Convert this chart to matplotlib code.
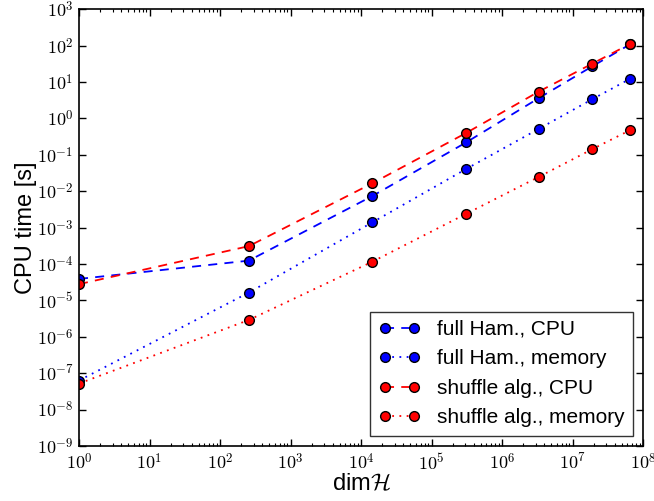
import matplotlib
matplotlib.use("Agg")
import matplotlib.pyplot as plt
from matplotlib.ticker import FuncFormatter
import numpy as np

plt.rcParams['font.family'] = ['Liberation Sans', 'DejaVu Sans']
plt.rcParams['mathtext.fontset'] = 'cm'

# Hilbert space dimensions
dims = [1, 256, 1.45e4, 3.1e5, 3.3e6, 1.9e7, 6.5e7]

# timings [s]
full_cpu = [3.9e-5, 1.24e-4, 7.4e-3, 0.22, 3.6, 27, 108]
full_mem = [6.3e-8, 1.64e-5, 1.4e-3, 0.041, 0.515, 3.37, 12.2]
shuffle_cpu = [2.8e-5, 3.1e-4, 0.0166, 0.40, 5.45, 32, 111]
shuffle_mem = [5.2e-8, 2.9e-6, 1.16e-4, 2.4e-3, 0.0247, 0.143, 0.474]

labels = ['full Ham., CPU', 'full Ham., memory',
          'shuffle alg., CPU', 'shuffle alg., memory']

fig = plt.figure(figsize=(6.54, 5.01), dpi=100)
ax = fig.add_axes([0.1208, 0.1098, 0.8624, 0.8716])

mk = dict(marker='o', markersize=7, markeredgecolor='k', markeredgewidth=1.0, lw=1.3)
ax.plot(dims, full_cpu, color='b', ls=(0, (5, 4)), markerfacecolor='b', label=labels[0], **mk)
ax.plot(dims, full_mem, color='b', ls=(0, (1, 3)), markerfacecolor='b', label=labels[1], **mk)
ax.plot(dims, shuffle_cpu, color='r', ls=(0, (5, 4)), markerfacecolor='r', label=labels[2], **mk)
ax.plot(dims, shuffle_mem, color='r', ls=(0, (1, 3)), markerfacecolor='r', label=labels[3], **mk)

ax.set_xscale('log')
ax.set_yscale('log')
ax.set_xlim(1, 1e8)
ax.set_ylim(1e-9, 1e3)
ax.set_xticks([10.0**k for k in range(0, 9)])
ax.set_yticks([10.0**k for k in range(-9, 4)])

# computer modern style power-of-ten labels
powfmt = FuncFormatter(lambda v, pos: r'$10^{%d}$' % int(round(np.log10(v))))
ax.xaxis.set_major_formatter(powfmt)
ax.yaxis.set_major_formatter(powfmt)

ax.tick_params(which='both', direction='in', top=True, right=True, labelsize=13)
ax.tick_params(which='major', length=5, width=1)
ax.tick_params(which='minor', length=2.5, width=0.8)
ax.tick_params(axis='x', pad=5)
ax.tick_params(axis='y', pad=4)
for s in ax.spines.values():
    s.set_linewidth(1.2)

ax.set_xlabel(r'dim$\mathcal{H}$', fontsize=17, labelpad=0)
ax.set_ylabel('CPU time [s]', fontsize=17, labelpad=0)

leg = ax.legend(loc='lower right', fontsize=15, numpoints=2, handlelength=2.0,
                handletextpad=0.8, labelspacing=0.5, fancybox=False,
                borderaxespad=0.5)
leg.get_frame().set_edgecolor('k')
leg.get_frame().set_linewidth(1.0)

fig.savefig('out.png', dpi=100)
